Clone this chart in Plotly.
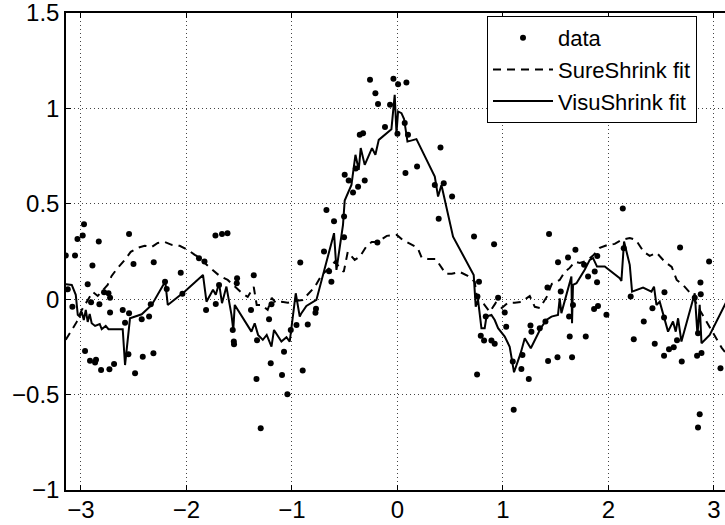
import math
import plotly.graph_objects as go

# ---- data: noisy samples ----
data_x = [-3.144, -3.125, -3.081, -3.056, -3.033, -2.983, -2.971, -2.961, -2.936, -2.914,
          -2.904, -2.891, -2.866, -2.857, -2.831, -2.825, -2.809, -2.781, -2.739, -2.730,
          -2.724, -2.724, -2.686, -2.604, -2.582, -2.550, -2.544, -2.544, -2.502, -2.487,
          -2.424, -2.414, -2.354, -2.338, -2.313, -2.310, -2.203, -2.187, -2.054, -2.038,
          -1.881, -1.829, -1.814, -1.725, -1.722, -1.691, -1.663, -1.611, -1.561, -1.551,
          -1.549, -1.523, -1.520, -1.388, -1.362, -1.336, -1.331, -1.296, -1.217, -1.201,
          -1.194, -1.094, -1.075, -1.043, -1.011, -0.957, -0.921, -0.898, -0.850, -0.772,
          -0.777, -0.696, -0.648, -0.626, -0.601, -0.673, -0.506, -0.506, -0.500, -0.462,
          -0.421, -0.395, -0.373, -0.310, -0.357, -0.326, -0.260, -0.209, -0.184, -0.190,
          -0.118, -0.070, -0.038, 0.000, 0.006, 0.085, 0.069, 0.100, 0.076, 0.186,
          0.354, 0.408, 0.391, 0.439, 0.518, 0.726, 0.773, 0.758, 0.755, 0.790,
          0.821, 0.837, 0.891, 0.916, 0.922, 0.954, 1.017, 1.031, 1.093, 1.102,
          1.175, 1.185, 1.245, 1.261, 1.270, 1.349, 1.403, 1.422, 1.428, 1.437,
          1.517, 1.522, 1.548, 1.617, 1.627, 1.633, 1.655, 1.664, 1.687, 1.769,
          1.785, 1.807, 1.864, 1.870, 1.894, 1.892, 1.901, 1.981, 2.136, 2.145,
          2.211, 2.240, 2.335, 2.417, 2.439, 2.527, 2.531, 2.527, 2.574, 2.619,
          2.650, 2.679, 2.695, 2.818, 2.840, 2.849, 2.849, 2.865, 2.872, 2.875,
          2.882, 2.954, 3.062]
data_y = [0.229, 0.052, -0.039, 0.229, 0.315, 0.334, 0.393, -0.271, 0.079, -0.322,
          -0.016, 0.176, -0.332, -0.318, 0.302, -0.026, -0.371, 0.037, 0.031, -0.367,
          0.008, -0.070, -0.339, -0.056, -0.123, -0.288, 0.342, -0.073, 0.184, -0.388,
          -0.105, -0.301, -0.091, -0.026, -0.283, 0.194, 0.092, 0.054, 0.139, 0.028,
          0.215, 0.197, -0.056, 0.334, -0.025, 0.075, 0.342, 0.346, -0.161, -0.222,
          -0.236, 0.084, 0.110, -0.056, 0.126, -0.418, -0.215, -0.676, -0.105, -0.336,
          -0.026, -0.397, -0.275, -0.498, -0.161, -0.135, 0.192, -0.374, -0.132, -0.050,
          -0.071, 0.250, 0.146, 0.091, 0.409, 0.468, 0.325, 0.433, 0.652, 0.622,
          0.559, 0.685, 0.590, 0.622, 0.862, 0.870, 1.150, 1.080, 1.023, 0.297,
          0.902, 1.019, 1.155, 0.867, 1.127, 1.136, 0.923, 0.862, 0.661, 0.695,
          0.599, 0.795, 0.421, 0.608, 0.538, 0.328, 0.092, 0.014, -0.395, -0.192,
          -0.217, -0.091, -0.217, 0.288, -0.234, 0.008, -0.070, -0.144, -0.327, -0.579,
          -0.366, -0.292, -0.418, -0.138, -0.170, -0.152, -0.117, 0.061, -0.324, 0.342,
          -0.304, 0.194, 0.040, 0.218, -0.091, -0.196, -0.304, -0.030, 0.259, 0.180,
          -0.196, 0.119, -0.052, 0.145, 0.227, 0.089, -0.035, -0.082, 0.475, 0.267,
          0.014, -0.210, -0.117, -0.047, -0.234, -0.297, 0.037, -0.096, -0.262, -0.252,
          -0.215, 0.271, -0.327, 0.008, -0.296, -0.178, -0.673, -0.603, 0.087, 0.026,
          -0.282, 0.197, -0.362]

# ---- SureShrink fit ----
sure_x = [-3.144, -3.087, -3.040, -2.992, -2.936, -2.888, -2.841, -2.794, -2.747, -2.709,
          -2.652, -2.585, -2.528, -2.462, -2.396, -2.329, -2.272, -2.206, -2.140, -2.064,
          -1.988, -1.921, -1.874, -1.808, -1.741, -1.685, -1.609, -1.542, -1.476, -1.419,
          -1.362, -1.334, -1.286, -1.230, -1.191, -1.154, -1.097, -1.040, -0.973, -0.898,
          -0.831, -0.784, -0.718, -0.642, -0.594, -0.547, -0.509, -0.471, -0.405, -0.357,
          -0.291, -0.244, -0.187, -0.101, -0.007, 0.050, 0.117, 0.192, 0.230, 0.287,
          0.363, 0.401, 0.458, 0.515, 0.591, 0.666, 0.733, 0.752, 0.818, 0.875,
          0.932, 0.989, 1.046, 1.112, 1.178, 1.254, 1.302, 1.349, 1.415, 1.463,
          1.538, 1.586, 1.633, 1.681, 1.728, 1.794, 1.851, 1.918, 1.993, 2.060,
          2.126, 2.202, 2.259, 2.335, 2.391, 2.458, 2.534, 2.600, 2.647, 2.714,
          2.790, 2.865, 2.931, 3.007, 3.074, 3.141]
sure_y = [-0.213, -0.161, -0.119, -0.056, -0.004, 0.038, 0.017, 0.049, 0.075, 0.122,
          0.164, 0.206, 0.248, 0.269, 0.280, 0.274, 0.295, 0.300, 0.285, 0.280,
          0.259, 0.232, 0.217, 0.180, 0.148, 0.122, 0.101, 0.064, 0.033, 0.012,
          0.064, -0.030, -0.030, -0.056, 0.007, -0.019, -0.014, -0.019, -0.009, -0.004,
          0.038, 0.064, 0.127, 0.164, 0.196, 0.164, 0.143, 0.248, 0.206, 0.222,
          0.280, 0.300, 0.300, 0.332, 0.337, 0.311, 0.290, 0.269, 0.217, 0.211,
          0.211, 0.180, 0.133, 0.133, 0.143, 0.122, 0.091, 0.007, -0.025, -0.067,
          -0.019, -0.046, -0.019, -0.019, -0.014, 0.017, -0.040, -0.046, 0.012, 0.080,
          0.101, 0.143, 0.164, 0.196, 0.190, 0.201, 0.227, 0.269, 0.285, 0.290,
          0.311, 0.321, 0.311, 0.248, 0.227, 0.243, 0.196, 0.169, 0.101, 0.070,
          0.023, -0.056, -0.119, -0.187, -0.255, -0.303]

# ---- VisuShrink fit ----
visu_x = [-3.144, -3.087, -3.049, -3.030, -3.012, -2.992, -2.973, -2.954, -2.936, -2.917,
          -2.898, -2.866, -2.822, -2.803, -2.765, -2.739, -2.604, -2.582, -2.535, -2.424,
          -2.329, -2.201, -2.177, -2.016, -1.843, -1.810, -1.748, -1.722, -1.691, -1.663,
          -1.621, -1.573, -1.556, -1.542, -1.384, -1.353, -1.321, -1.276, -1.239, -1.194,
          -1.170, -1.100, -1.052, -1.021, -0.964, -0.926, -0.910, -0.863, -0.768, -0.673,
          -0.601, -0.578, -0.516, -0.500, -0.436, -0.398, -0.367, -0.348, -0.310, -0.241,
          -0.209, -0.177, -0.057, -0.026, -0.009, 0.006, 0.038, 0.063, 0.095, 0.180,
          0.354, 0.385, 0.417, 0.527, 0.723, 0.742, 0.764, 0.796, 0.827, 0.844,
          0.891, 0.922, 0.954, 1.017, 1.064, 1.105, 1.168, 1.207, 1.264, 1.358,
          1.412, 1.460, 1.522, 1.538, 1.554, 1.649, 1.655, 1.664, 1.697, 1.775,
          1.823, 1.854, 1.892, 1.965, 2.107, 2.123, 2.148, 2.202, 2.224, 2.328,
          2.408, 2.432, 2.455, 2.486, 2.534, 2.565, 2.612, 2.638, 2.660, 2.692,
          2.818, 2.844, 2.865, 2.882, 2.960, 3.102, 3.145]
visu_y = [0.079, 0.075, 0.023, -0.082, -0.091, -0.067, -0.109, -0.056, -0.119, -0.077,
          -0.126, -0.140, -0.130, -0.157, -0.140, -0.157, -0.157, -0.345, -0.100, -0.079,
          -0.030, 0.093, -0.030, 0.040, 0.127, -0.013, 0.049, 0.023, 0.084, -0.021,
          0.066, -0.082, -0.161, -0.030, -0.170, -0.126, -0.187, -0.213, -0.187, -0.249,
          -0.161, -0.222, -0.199, -0.222, 0.031, -0.091, -0.073, -0.035, -0.004, 0.197,
          0.346, 0.154, 0.390, 0.517, 0.599, 0.757, 0.678, 0.792, 0.704, 0.792,
          0.757, 0.835, 0.891, 1.071, 0.870, 0.984, 0.975, 0.944, 0.826, 0.839,
          0.643, 0.538, 0.599, 0.328, 0.127, -0.039, -0.004, -0.152, -0.152, -0.091,
          -0.082, -0.109, -0.152, -0.196, -0.249, -0.383, -0.283, -0.205, -0.257, -0.152,
          -0.109, -0.091, -0.082, 0.005, -0.073, 0.119, -0.126, 0.075, 0.084, 0.154,
          0.206, 0.215, 0.171, 0.171, 0.110, 0.096, 0.302, 0.180, 0.040, 0.061,
          0.040, 0.066, -0.030, -0.013, -0.117, -0.170, -0.117, -0.170, -0.100, -0.222,
          0.031, -0.187, -0.030, -0.231, -0.187, -0.030, 0.017]

x_ticks = [-3, -2, -1, 0, 1, 2, 3]
y_ticks = [-1, -0.5, 0, 0.5, 1, 1.5]
y_tick_text = ["\u22121", "\u22120.5", "0", "0.5", "1", "1.5"]
x_tick_text = ["\u22123", "\u22122", "\u22121", "0", "1", "2", "3"]
series_names = ["data", "SureShrink fit", "VisuShrink fit"]

FONT = "Liberation Sans, Arial, Helvetica, sans-serif"

fig = go.Figure()
fig.add_trace(go.Scatter(x=data_x, y=data_y, mode="markers", name=series_names[0],
                         marker=dict(color="black", size=6)))
fig.add_trace(go.Scatter(x=sure_x, y=sure_y, mode="lines", name=series_names[1],
                         line=dict(color="black", width=2, dash="8px,6px")))
fig.add_trace(go.Scatter(x=visu_x, y=visu_y, mode="lines", name=series_names[2],
                         line=dict(color="black", width=2)))

plot_left, plot_right = 66, 725
px_per_unit = 105.5
x_lo = -math.pi
x_hi = x_lo + (plot_right - plot_left) / px_per_unit

fig.update_layout(
    width=725, height=525,
    margin=dict(l=66, r=0, t=13, b=35),
    paper_bgcolor="white", plot_bgcolor="white",
    font=dict(family=FONT, size=24, color="black"),
    showlegend=True,
    legend=dict(x=(487 - 66) / 659, y=(490 - 16) / 477, xanchor="left", yanchor="top",
                bgcolor="white", bordercolor="black", borderwidth=1,
                font=dict(family=FONT, size=22, color="black"),
                itemwidth=60, tracegroupgap=0),
    xaxis=dict(range=[x_lo, x_hi], tickmode="array", tickvals=x_ticks, ticktext=x_tick_text,
               showline=True, linecolor="black", linewidth=1.5, mirror="ticks",
               ticks="inside", ticklen=5, tickcolor="black", ticklabelstandoff=-3,
               ticklabeloverflow="allow",
               showgrid=True, gridcolor="#444", gridwidth=1, griddash="1px,3px",
               zeroline=False),
    yaxis=dict(range=[-1, 1.5], tickmode="array", tickvals=y_ticks, ticktext=y_tick_text,
               showline=True, linecolor="black", linewidth=1.5, mirror=False,
               ticks="inside", ticklen=5, tickcolor="black",
               ticklabeloverflow="allow",
               showgrid=True, gridcolor="#444", gridwidth=1, griddash="1px,3px",
               zeroline=False),
)

fig.write_html("out.html")
